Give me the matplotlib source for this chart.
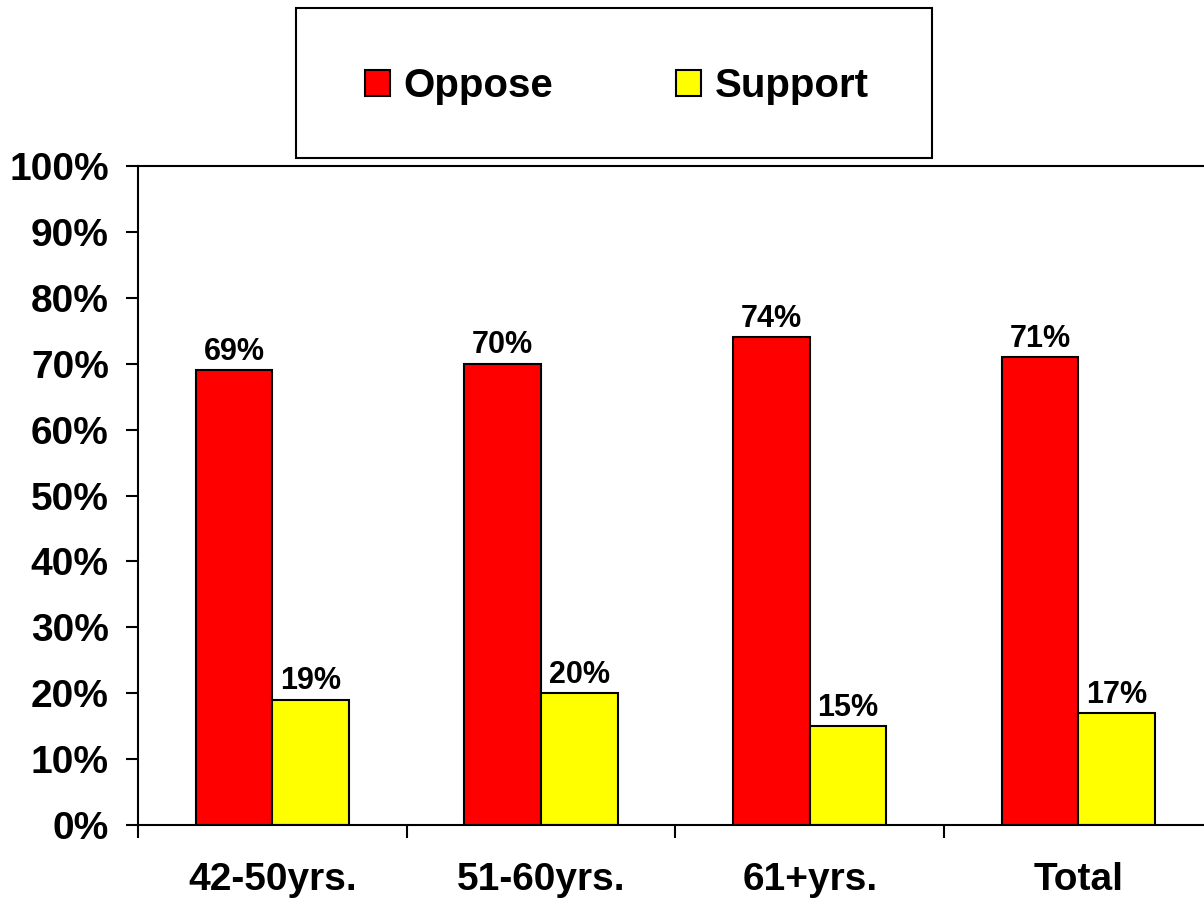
import matplotlib.pyplot as plt
from matplotlib.patches import Rectangle
import numpy as np

categories = ["42-50yrs.", "51-60yrs.", "61+yrs.", "Total"]
oppose = [69, 70, 74, 71]
support = [19, 20, 15, 17]
y_ticks = [0, 10, 20, 30, 40, 50, 60, 70, 80, 90, 100]

plt.rcParams["font.family"] = ["Liberation Sans", "DejaVu Sans"]
plt.rcParams["font.weight"] = "bold"

fig = plt.figure(figsize=(12.04, 8.98), dpi=100)
# plot area runs a little past the right edge, like the original
ax = fig.add_axes([138 / 1204, 73 / 898, 1074.7 / 1204, 659 / 898])

x = np.arange(len(categories))
w = 0.285
b1 = ax.bar(x - w / 2, oppose, w, color="#ff0000", edgecolor="black", linewidth=1.5, label="Oppose")
b2 = ax.bar(x + w / 2, support, w, color="#ffff00", edgecolor="black", linewidth=1.5, label="Support")

for bars, vals in [(b1, oppose), (b2, support)]:
    for bar, v in zip(bars, vals):
        ax.text(bar.get_x() + bar.get_width() / 2, v + 0.5, f"{v}%",
                ha="center", va="bottom", fontsize=22, fontweight="bold")

ax.set_xlim(-0.5, 3.5)
ax.set_ylim(0, 100)
ax.set_yticks(y_ticks)
ax.set_yticklabels([f"{t}%" for t in y_ticks])
ax.set_xticks(x)
ax.set_xticklabels(categories)
ax.set_xticks(np.arange(-0.5, 4, 1), minor=True)

ax.tick_params(axis="y", direction="out", length=9, width=1.5, pad=12, labelsize=28)
ax.tick_params(axis="x", which="major", length=0, pad=27, labelsize=28)
ax.tick_params(axis="x", which="minor", direction="out", length=9, width=1.5)
for lbl in ax.get_xticklabels() + ax.get_yticklabels():
    lbl.set_fontweight("bold")

for s in ["left", "bottom", "top"]:
    ax.spines[s].set_linewidth(1.5)
ax.spines["right"].set_visible(False)

# legend box
fig.patches.append(Rectangle((296 / 1204, 1 - 158 / 898), 636 / 1204, 150 / 898,
                             transform=fig.transFigure, facecolor="white",
                             edgecolor="black", linewidth=1.5))
fig.legend(handles=[b1, b2], loc="center", bbox_to_anchor=(617 / 1204, 1 - 86 / 898),
           ncol=2, frameon=False, prop={"size": 29, "weight": "bold"},
           handlelength=0.62, handleheight=0.62, handletextpad=0.33, columnspacing=3.05)

plt.savefig("out.png", dpi=100)
